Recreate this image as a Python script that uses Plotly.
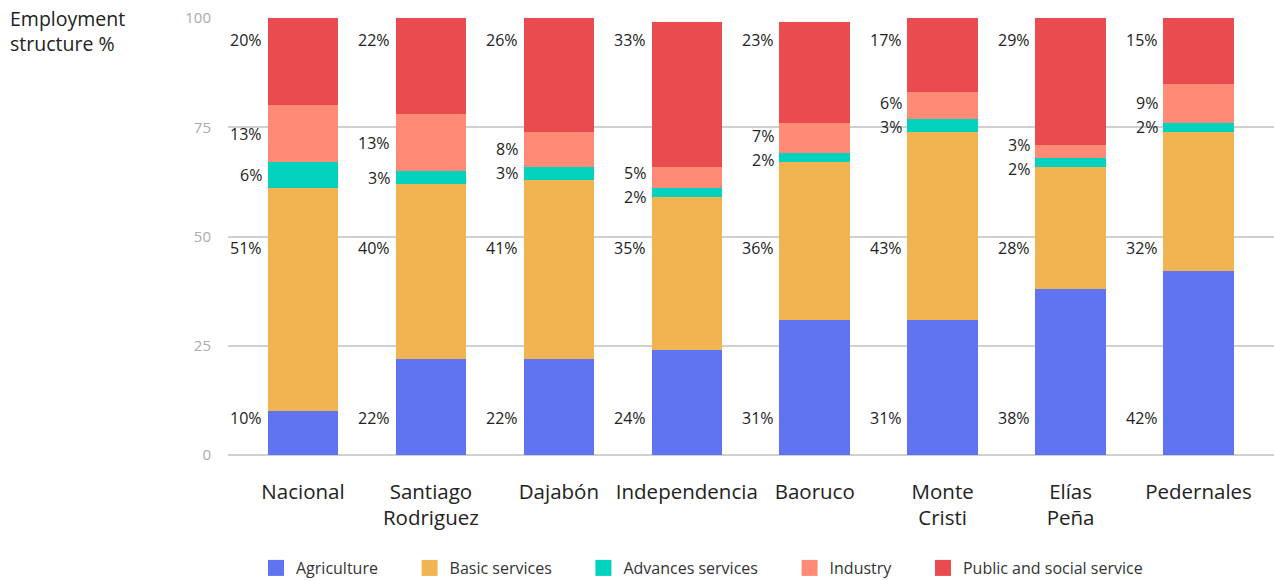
import plotly.graph_objects as go

# Employment structure by province (percent of employed population)
regions = ["Nacional", "Santiago<br>Rodriguez", "Dajabón", "Independencia",
           "Baoruco", "Monte<br>Cristi", "Elías<br>Peña", "Pedernales"]

agriculture = [10, 22, 22, 24, 31, 31, 38, 42]
basic_services = [51, 40, 41, 35, 36, 43, 28, 32]
advanced_services = [6, 3, 3, 2, 2, 3, 2, 2]
industry = [13, 13, 8, 5, 7, 6, 3, 9]
public_social = [20, 22, 26, 33, 23, 17, 29, 15]

series_names = ["Agriculture", "Basic services", "Advances services",
                "Industry", "Public and social service"]
series_values = [agriculture, basic_services, advanced_services, industry, public_social]
series_colors = ["#6073F1", "#F2B450", "#00D2BE", "#FF8A75", "#EA4B4F"]

y_ticks = [0, 25, 50, 75, 100]

FONT = "Open Sans"
BAR_WIDTH = 0.551
LEGEND_PAD = "\u2003\u2002\u2009"  # extra breathing room between legend entries
x_pos = list(range(len(regions)))

fig = go.Figure()

for name, vals, color in zip(series_names, series_values, series_colors):
    fig.add_trace(go.Bar(
        x=x_pos, y=vals, name=name, marker=dict(color=color, line=dict(width=0)),
        width=BAR_WIDTH, showlegend=False, hoverinfo="skip",
    ))

# Legend entries with larger square swatches
for k, (name, color) in enumerate(zip(series_names, series_colors)):
    label = name if k == len(series_names) - 1 else name + LEGEND_PAD
    fig.add_trace(go.Scatter(
        x=[None], y=[None], mode="markers", name=label,
        marker=dict(symbol="square", size=16, color=color),
    ))

# Percentage labels placed just left of each bar
annotations = []
for i in x_pos:
    a, b, c, d = agriculture[i], basic_services[i], advanced_services[i], industry[i]
    adv_y = a + b + c / 2
    ind_y = a + b + c + d / 2
    gap = 5.5
    if ind_y - adv_y < gap:
        mid = (ind_y + adv_y) / 2
        adv_y, ind_y = mid - gap / 2, mid + gap / 2
    label_specs = [
        (8.5, agriculture[i]),
        (47.4, basic_services[i]),
        (adv_y, advanced_services[i]),
        (ind_y, industry[i]),
        (95.0, public_social[i]),
    ]
    for yy, v in label_specs:
        annotations.append(dict(
            x=i, y=yy, xref="x", yref="y", text=f"{v}%", showarrow=False,
            xanchor="right", yanchor="middle", xshift=-39,
            font=dict(family=FONT, size=16, color="#222222"),
        ))

# Axis title in the top-left corner
annotations.append(dict(
    xref="paper", yref="paper", x=-220 / 1046, y=1 + 15 / 437,
    text="Employment<br>structure %", showarrow=False,
    xanchor="left", yanchor="top", align="left",
    font=dict(family=FONT, size=19.5, color="#222222"),
))

fig.update_layout(
    barmode="stack",
    width=1274, height=581,
    margin=dict(l=228, r=0, t=18, b=126),
    paper_bgcolor="white", plot_bgcolor="white",
    font=dict(family=FONT, color="#222222"),
    annotations=annotations,
    legend=dict(
        orientation="h", traceorder="normal",
        x=256 / 1274, xref="container", xanchor="left",
        y=13 / 581, yref="container", yanchor="middle",
        font=dict(family=FONT, size=16, color="#333333"),
        itemclick=False, itemdoubleclick=False,
    ),
    xaxis=dict(
        tickmode="array", tickvals=x_pos, ticktext=regions,
        range=[-0.586, 7.59], showgrid=False, zeroline=False, showline=False,
        ticks="", ticklabelstandoff=22,
        tickfont=dict(family=FONT, size=20.5, color="#222222"),
        fixedrange=True,
    ),
    yaxis=dict(
        range=[0, 100], tickmode="array", tickvals=y_ticks,
        showgrid=True, gridcolor="#d0d0d0", gridwidth=1.5,
        zeroline=True, zerolinecolor="#d0d0d0", zerolinewidth=1.5,
        showline=False, ticks="", ticklabelstandoff=16,
        tickfont=dict(family=FONT, size=15, color="#ababab"),
        fixedrange=True,
    ),
)

fig.write_html("out.html")
